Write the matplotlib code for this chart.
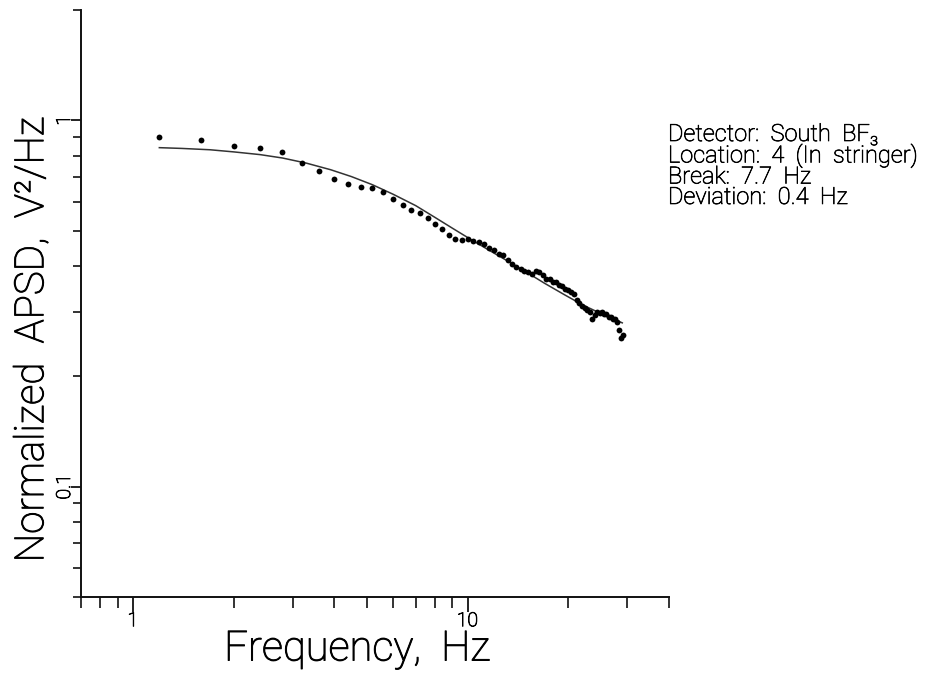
import numpy as np
import matplotlib
matplotlib.use("Agg")
import matplotlib.pyplot as plt
import matplotlib.patheffects as pe
from matplotlib.ticker import LogLocator, FixedLocator, FixedFormatter, NullFormatter

plt.rcParams["font.family"] = ["Roboto", "DejaVu Sans"]

# ── Données ───────────────────────────────────────────────────────────────────
# APSD mesurée (pas de 0.4 Hz)
freq_meas = [1.2, 1.6, 2.0, 2.4, 2.8, 3.2, 3.6, 4.0, 4.4, 4.8, 5.2, 5.6, 6.0,
             6.4, 6.8, 7.2, 7.6, 8.0, 8.4, 8.8, 9.2, 9.6, 10.0, 10.4, 10.8,
             11.2, 11.6, 12.0, 12.4, 12.8, 13.2, 13.6, 14.0, 14.4, 14.8, 15.2,
             15.6, 16.0, 16.4, 16.8, 17.2, 17.6, 18.0, 18.4, 18.8, 19.2, 19.6,
             20.0, 20.4, 20.8, 21.2, 21.6, 22.0, 22.4, 22.8, 23.2, 23.6, 24.0,
             24.4, 24.8, 25.2, 25.6, 26.0, 26.4, 26.8, 27.2, 27.6, 28.0, 28.4,
             28.8, 29.2]
apsd_meas = [0.903, 0.884, 0.851, 0.842, 0.821, 0.766, 0.727, 0.690, 0.669,
             0.657, 0.655, 0.639, 0.611, 0.586, 0.569, 0.560, 0.542, 0.522,
             0.504, 0.487, 0.474, 0.470, 0.473, 0.469, 0.466, 0.460, 0.448,
             0.442, 0.432, 0.430, 0.416, 0.405, 0.397, 0.394, 0.387, 0.385,
             0.381, 0.387, 0.386, 0.379, 0.370, 0.368, 0.362, 0.362, 0.355,
             0.353, 0.347, 0.345, 0.340, 0.335, 0.324, 0.318, 0.311, 0.308,
             0.303, 0.299, 0.287, 0.295, 0.300, 0.298, 0.299, 0.296, 0.296,
             0.291, 0.290, 0.287, 0.286, 0.282, 0.267, 0.255, 0.259]

# Courbe ajustée
freq_fit = [1.2, 1.4, 1.7, 2.0, 2.4, 2.8, 3.3, 3.9, 4.5, 5.2, 6.0, 7.0, 8.0,
            9.0, 10.0, 11.5, 13.0, 15.0, 17.0, 19.5, 22.0, 25.0, 29.0]
apsd_fit = [0.842, 0.838, 0.831, 0.820, 0.806, 0.789, 0.764, 0.733, 0.702,
            0.667, 0.628, 0.585, 0.543, 0.508, 0.479, 0.444, 0.416, 0.385,
            0.359, 0.334, 0.314, 0.297, 0.280]

info_lines = ["Detector:  South  BF₃",
              "Location:  4  (In  stringer)",
              "Break:  7.7  Hz",
              "Deviation:  0.4  Hz"]

INK = "black"
# police fine façon traceur : Roboto Light épaissie d'un léger contour
THIN = dict(fontweight="light", color=INK,
            path_effects=[pe.withStroke(linewidth=0.7, foreground=INK)])

# ── Figure ────────────────────────────────────────────────────────────────────
W, H = 953, 674
fig = plt.figure(figsize=(W / 100, H / 100), dpi=100, facecolor="white")
ax = fig.add_axes([81 / W, 1 - 597 / H, (669 - 81) / W, (597 - 10) / H])

ax.plot(freq_fit, apsd_fit, color="#333", lw=1.1, zorder=2)
ax.plot(freq_meas, apsd_meas, "o", color="black", ms=4.2, mew=0, zorder=3)

ax.set_xscale("log")
ax.set_yscale("log")
ax.set_xlim(0.7, 40)
ax.set_ylim(0.05, 2)

for side in ("top", "right"):
    ax.spines[side].set_visible(False)
for side in ("left", "bottom"):
    ax.spines[side].set_linewidth(1.4)
    ax.spines[side].set_color("#111")

ax.xaxis.set_major_locator(FixedLocator([1, 10]))
ax.xaxis.set_major_formatter(FixedFormatter(["1", "10"]))
ax.xaxis.set_minor_locator(LogLocator(base=10, subs=np.arange(2, 10)))
ax.xaxis.set_minor_formatter(NullFormatter())
ax.yaxis.set_major_locator(FixedLocator([0.1, 1]))
ax.yaxis.set_major_formatter(FixedFormatter(["0.1", "1"]))
ax.yaxis.set_minor_locator(LogLocator(base=10, subs=np.arange(2, 10)))
ax.yaxis.set_minor_formatter(NullFormatter())

ax.tick_params(axis="x", which="major", direction="out", length=11, width=1.3,
               labelsize=14, pad=0, colors="#111", labelcolor=INK)
ax.tick_params(axis="x", which="minor", direction="out", length=8, width=1.2,
               colors="#111")
ax.tick_params(axis="y", which="major", direction="out", length=7, width=1.3,
               labelsize=14, pad=-2, colors="#111", labelcolor=INK)
ax.tick_params(axis="y", which="minor", direction="out", length=6, width=1.2,
               colors="#111")
for lab in ax.get_yticklabels():
    lab.set_rotation(90)
    lab.set_va("center")
for lab in ax.get_xticklabels() + ax.get_yticklabels():
    lab.set_fontweight("light")
    lab.set_path_effects([pe.withStroke(linewidth=0.6, foreground=INK)])

fig.text(357 / W, 1 - 649 / H, "Frequency,  Hz", fontsize=30,
         ha="center", va="center", **THIN)
fig.text(32 / W, 1 - 340 / H, "Normalized  APSD,  V²/Hz", fontsize=29,
         rotation=90, ha="center", va="center", **THIN)

fig.text(668 / W, 1 - 123 / H, "\n".join(info_lines), fontsize=17,
         ha="left", va="top", linespacing=0.86,
         fontweight="light", color=INK,
         path_effects=[pe.withStroke(linewidth=0.5, foreground=INK)])

fig.savefig("out.png", dpi=100, facecolor="white")
